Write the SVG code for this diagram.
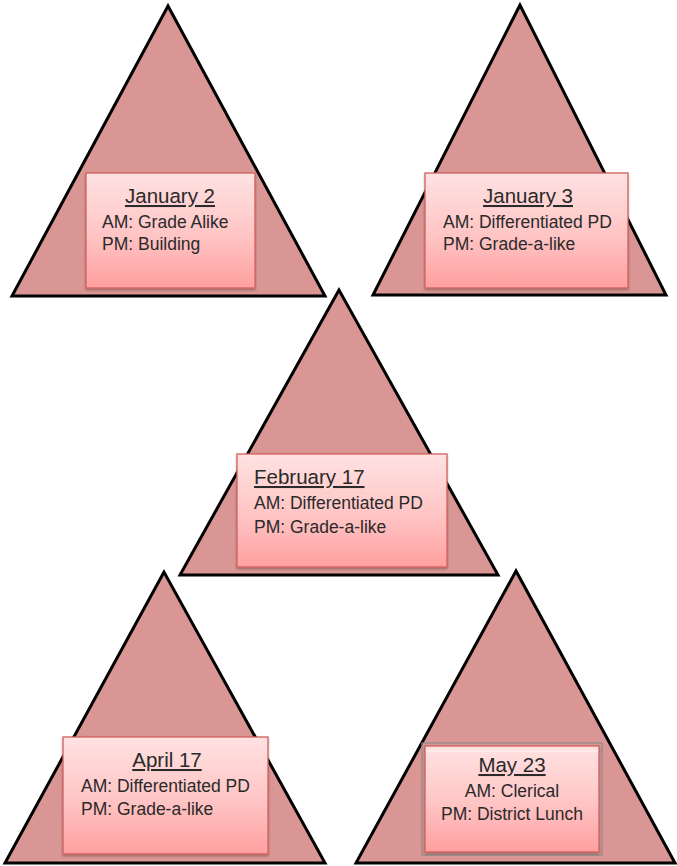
<svg xmlns="http://www.w3.org/2000/svg" width="677" height="866" viewBox="0 0 677 866">
<defs>
<linearGradient id="boxg" x1="0" y1="0" x2="0" y2="1">
<stop offset="0" stop-color="#ffe2e2"/>
<stop offset="0.55" stop-color="#ffc4c4"/>
<stop offset="1" stop-color="#ff9f9f"/>
</linearGradient>
<filter id="sh" x="-10%" y="-10%" width="120%" height="125%">
<feDropShadow dx="0" dy="1.5" stdDeviation="1.2" flood-color="#000" flood-opacity="0.3"/>
</filter>
</defs>
<style>
.tri{fill:#d99694;stroke:#000;stroke-width:3;stroke-linejoin:miter}
.box{fill:url(#boxg);stroke:#d0605c;stroke-width:1.3;filter:url(#sh)}
.t{font-family:"Liberation Sans",Arial,sans-serif;fill:#2a2a2a}
.h{font-size:20.5px;text-decoration:underline}
.l{font-size:17.5px}
.c{text-anchor:middle}
</style>
<rect width="677" height="866" fill="#fff"/>
<g id="connectors"/>
<g id="node-jan2">
<polygon class="tri" points="168,6 12,296 325,296"/>
<rect class="box" x="86" y="173" width="169" height="115"/>
<text class="t h c" x="170" y="203">January 2</text>
<text class="t l" x="102" y="228">AM: Grade Alike</text>
<text class="t l" x="102" y="250">PM: Building</text>
</g>
<g id="node-jan3">
<polygon class="tri" points="520,5 373,295 666,295"/>
<rect class="box" x="425" y="173" width="203" height="115"/>
<text class="t h c" x="528" y="203">January 3</text>
<text class="t l" x="443" y="228">AM: Differentiated PD</text>
<text class="t l" x="443" y="250">PM: Grade-a-like</text>
</g>
<g id="node-feb17">
<polygon class="tri" points="339,290 180,575 498,575"/>
<rect class="box" x="237" y="454" width="210" height="113"/>
<text class="t h" x="254" y="484">February 17</text>
<text class="t l" x="254" y="509">AM: Differentiated PD</text>
<text class="t l" x="254" y="533">PM: Grade-a-like</text>
</g>
<g id="node-apr17">
<polygon class="tri" points="164,572 5,863 325,863"/>
<rect class="box" x="63" y="737" width="205" height="117"/>
<text class="t h c" x="167" y="767">April 17</text>
<text class="t l" x="81" y="792">AM: Differentiated PD</text>
<text class="t l" x="81" y="815">PM: Grade-a-like</text>
</g>
<g id="node-may23">
<polygon class="tri" points="516,571 356,863 675,863"/>
<rect x="422" y="743" width="180" height="112" fill="none" stroke="#8a8a8a" stroke-width="1.2"/>
<rect class="box" x="425" y="746" width="174" height="106"/>
<line x1="426" y1="751" x2="598" y2="751" stroke="#fff3f3" stroke-width="1.2"/>
<text class="t h c" x="512" y="772">May 23</text>
<text class="t l c" x="512" y="797">AM: Clerical</text>
<text class="t l c" x="512" y="820">PM: District Lunch</text>
</g>
</svg>
